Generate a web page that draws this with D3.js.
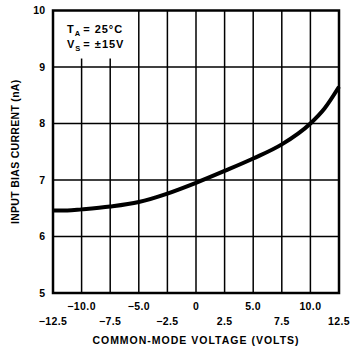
<!DOCTYPE html>
<html>
<head>
<meta charset="utf-8">
<script src="https://cdn.jsdelivr.net/npm/d3@7"></script>
<style>
  body { margin: 0; background: #fff; }
  text { font-family: "Liberation Sans", Arial, sans-serif; font-weight: bold; fill: #000; }
</style>
</head>
<body>
<div id="chart"></div>
<script>
// Curve
const voltage = [-12.5, -11.25, -10, -7.5, -5, -2.5, 0, 2.5, 5, 7.5, 10, 11.25, 12.5];
const biasCurrent = [6.46, 6.46, 6.48, 6.53, 6.61, 6.76, 6.95, 7.16, 7.38, 7.63, 8.0, 8.27, 8.65];

const xTicksUpper = [-10, -5, 0, 5, 10];
const xTicksLower = [-12.5, -7.5, -2.5, 2.5, 7.5, 12.5];
const xGrid = [-10, -7.5, -5, -2.5, 0, 2.5, 5, 7.5, 10];
const yTicks = [5, 6, 7, 8, 9, 10];

const margin = { top: 10.5, right: 25, bottom: 55, left: 53 };
const W = 364, H = 348;
const width = W - margin.left - margin.right;
const height = H - margin.top - margin.bottom;

const svg = d3.select("#chart")
  .append("svg")
  .attr("width", W)
  .attr("height", H)
  .append("g")
  .attr("transform", `translate(${margin.left},${margin.top})`);

const xScale = d3.scaleLinear().domain([-12.5, 12.5]).range([0, width]);
const yScale = d3.scaleLinear().domain([5, 10]).range([height, 0]);

const fmtX = d => d === 0 ? "0" : (d < 0 ? "\u2212" : "") + Math.abs(d).toFixed(1);

// Grid
svg.selectAll(".vgrid")
  .data(xGrid)
  .enter()
  .append("line")
  .attr("x1", d => xScale(d))
  .attr("x2", d => xScale(d))
  .attr("y1", 0)
  .attr("y2", height)
  .attr("stroke", "#000")
  .attr("stroke-width", 1.5);

svg.selectAll(".hgrid")
  .data(yTicks.slice(1, -1))
  .enter()
  .append("line")
  .attr("x1", 0)
  .attr("x2", width)
  .attr("y1", d => yScale(d))
  .attr("y2", d => yScale(d))
  .attr("stroke", "#000")
  .attr("stroke-width", 1.5);

// White box behind the conditions note
svg.append("rect")
  .attr("x", 0)
  .attr("y", 0)
  .attr("width", xScale(-6.2) - xScale(-12.5))
  .attr("height", yScale(9.15))
  .attr("fill", "#fff");

// Frame
svg.append("rect")
  .attr("x", 0)
  .attr("y", 0)
  .attr("width", width)
  .attr("height", height)
  .attr("fill", "none")
  .attr("stroke", "#000")
  .attr("stroke-width", 2.5);

// Curve
const line = d3.line()
  .x((d, i) => xScale(voltage[i]))
  .y(d => yScale(d))
  .curve(d3.curveMonotoneX);

svg.append("path")
  .datum(biasCurrent)
  .attr("d", line)
  .attr("fill", "none")
  .attr("stroke", "#000")
  .attr("stroke-width", 4);

// Y tick labels
svg.selectAll(".ylab")
  .data(yTicks)
  .enter()
  .append("text")
  .attr("x", -8)
  .attr("y", d => yScale(d))
  .attr("dy", "0.35em")
  .attr("text-anchor", "end")
  .style("font-size", "10.5px")
  .text(d => d);

// X tick labels, two staggered rows
svg.selectAll(".xlab1")
  .data(xTicksUpper)
  .enter()
  .append("text")
  .attr("x", d => xScale(d))
  .attr("y", height + 17)
  .attr("text-anchor", "middle")
  .style("font-size", "10.5px")
  .style("letter-spacing", "0.4px")
  .text(fmtX);

svg.selectAll(".xlab2")
  .data(xTicksLower)
  .enter()
  .append("text")
  .attr("x", d => xScale(d))
  .attr("y", height + 32)
  .attr("text-anchor", "middle")
  .style("font-size", "10.5px")
  .style("letter-spacing", "0.4px")
  .text(fmtX);

// Axis titles
svg.append("text")
  .attr("x", width / 2)
  .attr("y", height + 51)
  .attr("text-anchor", "middle")
  .style("font-size", "10.5px")
  .style("letter-spacing", "1px")
  .text("COMMON-MODE VOLTAGE (VOLTS)");

svg.append("text")
  .attr("transform", "rotate(-90)")
  .attr("x", -height / 2)
  .attr("y", -34)
  .attr("text-anchor", "middle")
  .style("font-size", "10.5px")
  .style("letter-spacing", "0.3px")
  .text("INPUT BIAS CURRENT (nA)");

// Conditions note
const note = svg.append("text")
  .attr("x", 14)
  .attr("y", 22)
  .style("font-size", "11px")
  .style("letter-spacing", "1px");
note.append("tspan").text("T");
note.append("tspan").attr("dy", 3).style("font-size", "7.5px").text("A");
note.append("tspan").attr("dy", -3).attr("dx", 2).text("= 25\u00B0C");

const note2 = svg.append("text")
  .attr("x", 14)
  .attr("y", 37)
  .style("font-size", "11px")
  .style("letter-spacing", "1px");
note2.append("tspan").text("V");
note2.append("tspan").attr("dy", 3).style("font-size", "7.5px").text("S");
note2.append("tspan").attr("dy", -3).attr("dx", 2).text("= \u00B115V");
</script>
</body>
</html>
